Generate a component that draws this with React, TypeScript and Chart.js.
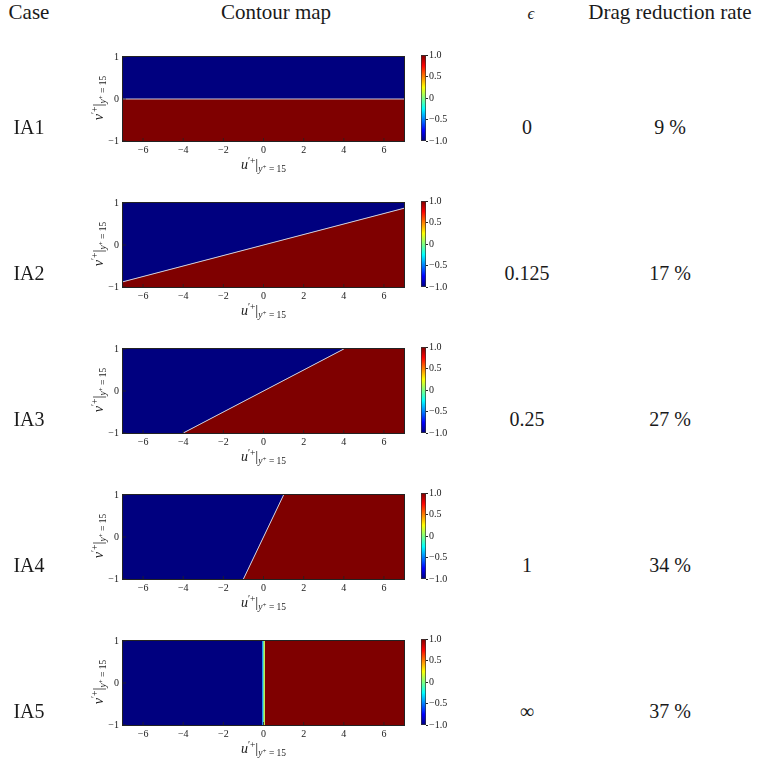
import React, { useEffect, useRef } from 'react';
import { Chart, registerables } from 'chart.js';

Chart.register(...registerables);
Chart.defaults.font.family = "'Liberation Serif', 'DejaVu Serif', serif";

// ---- table content ----
const cases = ['IA1', 'IA2', 'IA3', 'IA4', 'IA5'];
const epsilonLabels = ['0', '0.125', '0.25', '1', '\u221E'];
const epsilonValues = [0, 0.125, 0.25, 1, Infinity];
const dragReductionRates = [9, 17, 27, 34, 37];

// ---- axes of each contour map ----
const uLimits = [-7, 7];
const vLimits = [-1, 1];
const uTicks = [-6, -4, -2, 0, 2, 4, 6];
const vTicks = [-1, 0, 1];
const colorbarLimits = [-1, 1];
const colorbarTicks = [1.0, 0.5, 0, -0.5, -1.0];

// ---- layout ----
const ROW0_TOP = 55;
const ROW_STEP = 146;
const PLOT_LEFT = 123;
const PLOT_W = 281;
const PLOT_H = 86;
const Y_AXIS_W = 30;
const X_AXIS_H = 20;
const PAD_T = 8;
const PAD_R = 8;
const CB_LEFT = 421;
const CB_W = 5;
const CB_AXIS_W = 35;

const BLUE = '#00007f';
const RED = '#7f0000';
const JET: [number, string][] = [
  [0, '#00007f'],
  [0.125, '#0000ff'],
  [0.375, '#00ffff'],
  [0.625, '#ffff00'],
  [0.875, '#ff0000'],
  [1, '#7f0000'],
];
const SERIF = "'Liberation Serif', 'DejaVu Serif', serif";
const TEXT = '#1a1a1a';

const minus = (s: string) => s.replace('-', '\u2212');
const finite = (...xs: number[]) => xs.every((x) => Number.isFinite(x));

// Upper edge of the positive region v < eps * u, clipped to the plot box.
function regionEdge(eps: number) {
  const [u0, u1] = uLimits;
  const [v0, v1] = vLimits;
  if (!isFinite(eps)) {
    return [
      { x: u0, y: v0 },
      { x: 0, y: v0 },
      { x: 0, y: v1 },
      { x: u1, y: v1 },
    ];
  }
  const us = [u0];
  if (eps > 0) {
    const uc = v1 / eps;
    if (uc < u1) us.push(-uc, uc);
  }
  us.push(u1);
  return us.map((u) => ({ x: u, y: Math.max(v0, Math.min(v1, eps * u)) }));
}

// Zero contour v = eps * u inside the plot box.
function zeroContour(eps: number) {
  const [u0, u1] = uLimits;
  const [v0, v1] = vLimits;
  if (!isFinite(eps)) return [{ x: 0, y: v0 }, { x: 0, y: v1 }];
  if (eps === 0) return [{ x: u0, y: 0 }, { x: u1, y: 0 }];
  const a = Math.max(u0, v0 / eps);
  const b = Math.min(u1, v1 / eps);
  return [{ x: a, y: eps * a }, { x: b, y: eps * b }];
}

const framePlugin = {
  id: 'frame',
  afterDatasetsDraw(chart: any) {
    const { ctx, chartArea: a, scales } = chart;
    ctx.save();
    ctx.strokeStyle = '#222';
    ctx.lineWidth = 0.8;
    ctx.beginPath();
    for (const v of uTicks) {
      const p = scales.x.getPixelForValue(v);
      ctx.moveTo(p, a.bottom);
      ctx.lineTo(p, a.bottom - 3);
    }
    for (const v of vTicks) {
      const p = scales.y.getPixelForValue(v);
      ctx.moveTo(a.left, p);
      ctx.lineTo(a.left + 3, p);
    }
    ctx.stroke();
    ctx.lineWidth = 1;
    ctx.strokeStyle = '#222';
    const l = Math.round(a.left) - 0.5;
    const t = Math.round(a.top) - 0.5;
    const r = Math.round(a.right) + 0.5;
    const b = Math.round(a.bottom) + 0.5;
    ctx.strokeRect(l, t, r - l, b - t);
    ctx.restore();
  },
};

const tickFont = { size: 10, family: SERIF };

function ContourPlot({ eps, top }: { eps: number; top: number }) {
  const ref = useRef<HTMLCanvasElement>(null);
  const W = Y_AXIS_W + PLOT_W + PAD_R;
  const H = PAD_T + PLOT_H + X_AXIS_H;
  useEffect(() => {
    const edge = regionEdge(eps);
    const contour = zeroContour(eps);
    const vertical = !isFinite(eps);
    const chart = new Chart(ref.current!, {
      type: 'line',
      data: {
        datasets: [
          // zero contour, drawn on top of both filled regions
          {
            data: contour.map((p) => ({ ...p })),
            fill: false,
            borderWidth: vertical ? 3 : 1,
            pointRadius: 0,
            tension: 0,
            borderColor: (ctx: any) => {
              if (!vertical) return '#cfccd8';
              const sx = ctx.chart.scales && ctx.chart.scales.x;
              const px = sx ? sx.getPixelForValue(0) : NaN;
              if (!finite(px)) return '#90f070';
              const g = ctx.chart.ctx.createLinearGradient(px - 1.5, 0, px + 1.5, 0);
              g.addColorStop(0, '#1a5cff');
              g.addColorStop(0.35, '#30c8d8');
              g.addColorStop(0.65, '#98f868');
              g.addColorStop(1, '#e8e040');
              return g;
            },
          },
          {
            data: edge.map((p) => ({ ...p })),
            fill: 'end',
            backgroundColor: BLUE,
            borderWidth: 0,
            pointRadius: 0,
            tension: 0,
          },
          {
            data: edge.map((p) => ({ ...p })),
            fill: 'start',
            backgroundColor: RED,
            borderWidth: 0,
            pointRadius: 0,
            tension: 0,
          },
        ],
      },
      options: {
        responsive: false,
        animation: false,
        devicePixelRatio: 1,
        events: [],
        layout: { padding: { top: PAD_T, right: PAD_R, left: 0, bottom: 0 } },
        plugins: { legend: { display: false }, tooltip: { enabled: false } },
        scales: {
          x: {
            type: 'linear',
            min: uLimits[0],
            max: uLimits[1],
            afterBuildTicks: (s: any) => {
              s.ticks = uTicks.map((v) => ({ value: v }));
            },
            afterFit: (s: any) => {
              s.height = X_AXIS_H;
            },
            grid: { display: false, drawTicks: false },
            border: { display: false },
            ticks: {
              padding: 3,
              font: tickFont,
              color: TEXT,
              maxRotation: 0,
              autoSkip: false,
              callback: (v: any) => minus(String(v)),
            },
          },
          y: {
            type: 'linear',
            min: vLimits[0],
            max: vLimits[1],
            afterBuildTicks: (s: any) => {
              s.ticks = vTicks.map((v) => ({ value: v }));
            },
            afterFit: (s: any) => {
              s.width = Y_AXIS_W;
            },
            grid: { display: false, drawTicks: false },
            border: { display: false },
            ticks: {
              padding: 4,
              font: tickFont,
              color: TEXT,
              callback: (v: any) => minus(String(v)),
            },
          },
        },
      },
      plugins: [framePlugin],
    } as any);
    chart.update();
    return () => chart.destroy();
  }, [eps]);
  return (
    <canvas
      ref={ref}
      width={W}
      height={H}
      style={{ position: 'absolute', left: PLOT_LEFT - Y_AXIS_W, top: top - PAD_T, width: W, height: H }}
    />
  );
}

function Colorbar({ top }: { top: number }) {
  const ref = useRef<HTMLCanvasElement>(null);
  const W = CB_W + CB_AXIS_W;
  const H = PAD_T + PLOT_H + PAD_T;
  useEffect(() => {
    const chart = new Chart(ref.current!, {
      type: 'bar',
      data: {
        labels: [''],
        datasets: [
          {
            data: [[colorbarLimits[0], colorbarLimits[1]]],
            categoryPercentage: 1,
            barPercentage: 1,
            borderWidth: 1,
            borderColor: '#333',
            borderSkipped: false,
            backgroundColor: (ctx: any) => {
              const a = ctx.chart.chartArea;
              if (!a || !finite(a.top, a.bottom) || a.bottom === a.top) return RED;
              const g = ctx.chart.ctx.createLinearGradient(0, a.bottom, 0, a.top);
              for (const [o, c] of JET) g.addColorStop(o, c);
              return g;
            },
          },
        ],
      },
      options: {
        responsive: false,
        animation: false,
        devicePixelRatio: 1,
        events: [],
        layout: { padding: { top: PAD_T, bottom: PAD_T, left: 0, right: 0 } },
        plugins: { legend: { display: false }, tooltip: { enabled: false } },
        scales: {
          x: { display: false },
          y: {
            position: 'right',
            min: colorbarLimits[0],
            max: colorbarLimits[1],
            afterBuildTicks: (s: any) => {
              s.ticks = colorbarTicks.map((v) => ({ value: v }));
            },
            afterFit: (s: any) => {
              s.width = CB_AXIS_W;
            },
            grid: { display: true, drawOnChartArea: false, drawTicks: true, tickLength: 2, color: '#222' },
            border: { display: false },
            ticks: {
              padding: 1,
              font: tickFont,
              color: TEXT,
              callback: (v: any) => (v === 0 ? '0' : minus(Number(v).toFixed(1))),
            },
          },
        },
      },
    } as any);
    chart.update();
    return () => chart.destroy();
  }, []);
  return (
    <canvas
      ref={ref}
      width={W}
      height={H}
      style={{ position: 'absolute', left: CB_LEFT, top: top - PAD_T, width: W, height: H }}
    />
  );
}

function AxisTitle({ sym }: { sym: string }) {
  return (
    <span style={{ fontFamily: SERIF, whiteSpace: 'nowrap', color: TEXT }}>
      <span style={{ fontStyle: 'italic', fontSize: 14 }}>{sym}</span>
      <span style={{ fontSize: 9.5, position: 'relative', top: -5 }}>{'\u2032+'}</span>
      <span style={{ fontSize: 15 }}>|</span>
      <span style={{ fontSize: 9.5, position: 'relative', top: 3 }}>
        <i>y</i>
        <span style={{ fontSize: 7, position: 'relative', top: -3 }}>+</span>
        {' = 15'}
      </span>
    </span>
  );
}

const cell = (
  left: number,
  top: number,
  width: number,
  align: 'left' | 'center',
  size = 20
): React.CSSProperties => ({
  position: 'absolute',
  left,
  top,
  width,
  height: 24,
  lineHeight: '24px',
  textAlign: align,
  fontFamily: SERIF,
  fontSize: size,
  color: TEXT,
  whiteSpace: 'nowrap',
});

const CASE_CX = 29;
const MAP_CX = 276;
const EPS_CX = 527;
const DRAG_CX = 670;
const HEAD_Y = 0;

export default function App() {
  return (
    <div style={{ position: 'absolute', left: 0, top: 0, width: 760, height: 761, background: '#fff', overflow: 'hidden' }}>
      <div style={cell(CASE_CX - 50, HEAD_Y, 100, 'center', 21)}>Case</div>
      <div style={cell(MAP_CX - 100, HEAD_Y, 200, 'center', 21)}>Contour map</div>
      <div style={cell(EPS_CX - 50 + 4, HEAD_Y, 100, 'center', 21)}>
        <span style={{ fontStyle: 'italic', fontSize: 17 }}>{'\u03F5'}</span>
      </div>
      <div style={cell(DRAG_CX - 100, HEAD_Y, 200, 'center', 21)}>Drag reduction rate</div>
      {cases.map((name, i) => {
        const top = ROW0_TOP + i * ROW_STEP;
        const cy = top + PLOT_H / 2;
        const ty = top + 72;
        return (
          <React.Fragment key={name}>
            <ContourPlot eps={epsilonValues[i]} top={top} />
            <Colorbar top={top} />
            <div
              style={{
                position: 'absolute',
                left: 99,
                top: cy,
                transform: 'translate(-50%, -50%) rotate(-90deg)',
                lineHeight: '16px',
              }}
            >
              <AxisTitle sym="v" />
            </div>
            <div
              style={{
                position: 'absolute',
                left: PLOT_LEFT + PLOT_W / 2 - 100,
                top: top + PLOT_H + 14,
                width: 200,
                textAlign: 'center',
                lineHeight: '18px',
              }}
            >
              <AxisTitle sym="u" />
            </div>
            <div style={cell(CASE_CX - 50, ty - 12, 100, 'center')}>{name}</div>
            <div style={cell(EPS_CX - 60, ty - 12, 120, 'center')}>{epsilonLabels[i]}</div>
            <div style={cell(DRAG_CX - 60, ty - 12, 120, 'center')}>{dragReductionRates[i]} %</div>
          </React.Fragment>
        );
      })}
    </div>
  );
}
